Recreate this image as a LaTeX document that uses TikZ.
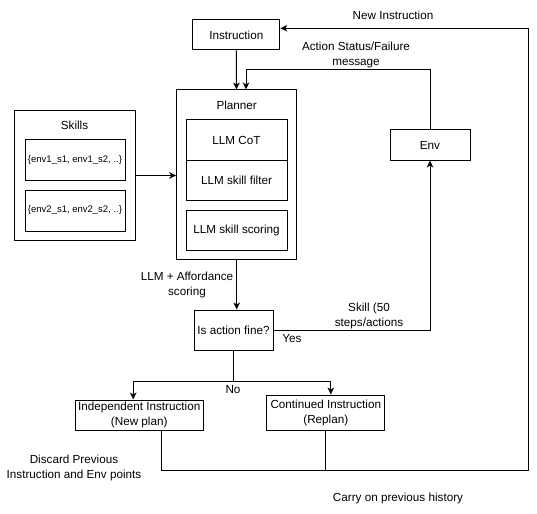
\documentclass[tikz,border=0pt]{standalone}
\usepackage{fontspec}
\setmainfont{Liberation Sans}
\usetikzlibrary{arrows.meta}

\begin{document}
\begin{tikzpicture}[x=1pt,y=-1pt,line width=1pt,
    font=\fontsize{11.7}{15}\selectfont,
    box/.style={draw,rectangle,inner sep=0pt,align=center},
    small/.style={font=\fontsize{9.5}{11}\selectfont},
    arr/.style={-{Stealth[length=7pt,width=6.5pt,inset=2pt]}},
    txt/.style={align=center,inner sep=0pt}]
  \useasboundingbox (0,0) rectangle (537,513);
  % instruction and planner
  \node[box,minimum width=87pt,minimum height=30pt] (instr) at (236.3,35) {Instruction};
  \node[box,minimum width=120pt,minimum height=169pt] (planner) at (236.7,174.5) {};
  \node[txt] (plannerlbl) at (236.7,105) {Planner};
  \node[box,minimum width=101pt,minimum height=40pt] (cot) at (236.5,140) {LLM CoT};
  \node[box,minimum width=101pt,minimum height=40pt] (filter) at (236.5,180) {LLM skill filter};
  \node[box,minimum width=101pt,minimum height=40pt] (scoring) at (236.5,230) {LLM skill scoring};
  % skills
  \node[box,minimum width=121pt,minimum height=130pt] (skills) at (74.5,175.5) {};
  \node[txt] (skillslbl) at (74.5,125) {Skills};
  \node[box,small,minimum width=100pt,minimum height=40pt] (envone) at (75,160) {\{env1\_s1, env1\_s2, ..\}};
  \node[box,small,minimum width=100pt,minimum height=41pt] (envtwo) at (75,210.5) {\{env2\_s1, env2\_s2, ..\}};
  % env and check
  \node[box,minimum width=80pt,minimum height=30pt] (env) at (430,145) {Env};
  \node[box,minimum width=79pt,minimum height=40pt] (check) at (233.5,330) {Is action fine?};
  \node[box,minimum width=128pt,minimum height=30pt] (indep) at (139.2,415) {Independent Instruction\\(New plan)};
  \node[box,minimum width=118pt,minimum height=35pt] (cont) at (325.8,412.5) {Continued Instruction\\(Replan)};
  % labels
  \node[txt] (newlbl) at (393,15) {New Instruction};
  \node[txt] (statuslbl) at (356,54.5) {Action Status/Failure\\message};
  \node[txt] (afflbl) at (187,284.5) {LLM + Affordance\\scoring};
  \node[txt] (skilllbl) at (369,316) {Skill (50\\steps/actions};
  \node[txt] (yeslbl) at (292,339) {Yes};
  \node[txt] (nolbl) at (233,390) {No};
  \node[txt] (discardlbl) at (74,468) {Discard Previous\\Instruction and Env points};
  \node[txt] (carrylbl) at (398,498) {Carry on previous history};
  % helper points
  \coordinate (fb) at (246,70);
  \coordinate (fork) at (233.5,381);
  \coordinate (loop) at (528.3,470);
  \coordinate (top) at (528.3,28.3);
  % connectors
  \draw[arr] (instr) -- (planner);
  \draw[arr] (env.north) |- (fb) -- (fb |- planner.north);
  \draw[arr] (skills.east) -- (skills.east -| planner.west);
  \draw[arr] (planner.south) -- (planner.south |- check.north);
  \draw[arr] (check.east) -| (env.south);
  \draw (check.south) -- (fork);
  \draw[arr] (fork) -| ([xshift=-6pt]indep.north);
  \draw[arr] (fork) -| ([xshift=5pt]cont.north);
  \draw ([xshift=22.5pt]indep.south) |- (loop) -- (top);
  \draw (cont.south) -- (cont.south |- loop);
  \draw[arr,line width=1.5pt] (top) -- (top -| instr.east);
\end{tikzpicture}
\end{document}
